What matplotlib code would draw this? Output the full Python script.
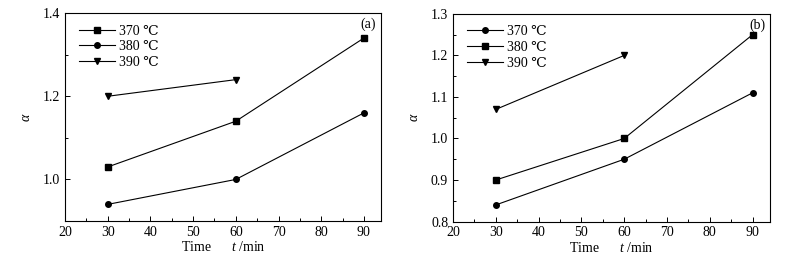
"""Two-panel alpha vs time plot."""

import matplotlib

matplotlib.use("Agg")
import matplotlib.pyplot as plt
from matplotlib.ticker import FormatStrFormatter, MultipleLocator

plt.rcParams.update(
    {
        "font.family": ["Liberation Serif", "DejaVu Serif"],
        "font.size": 10,
        "mathtext.fontset": "custom",
        "mathtext.rm": "Liberation Serif",
        "mathtext.it": "Liberation Serif:italic",
        "xtick.direction": "in",
        "ytick.direction": "in",
        "axes.linewidth": 0.8,
    }
)

time_min = [30, 60, 90]
time_short = [30, 60]
labels = ["370 ℃", "380 ℃", "390 ℃"]

# panel (a)
a_370 = [1.03, 1.14, 1.34]
a_380 = [0.94, 1.00, 1.16]
a_390 = [1.20, 1.24]

# panel (b)
b_370 = [0.84, 0.95, 1.11]
b_380 = [0.90, 1.00, 1.25]
b_390 = [1.07, 1.20]


def draw_panel(axis, series, markers, ylim, major, minor, tag):
    for (x, y), marker, label in zip(series, markers, labels):
        axis.plot(x, y, color="black", linewidth=0.8, marker=marker, markersize=4, label=label)
    axis.set_xlim(20, 94)
    axis.set_ylim(*ylim)
    axis.xaxis.set_major_locator(MultipleLocator(10))
    axis.xaxis.set_minor_locator(MultipleLocator(5))
    axis.yaxis.set_major_locator(MultipleLocator(major))
    axis.yaxis.set_minor_locator(MultipleLocator(minor))
    axis.yaxis.set_major_formatter(FormatStrFormatter("%.1f"))
    axis.tick_params(which="major", length=3.5, width=0.7, top=False, right=False)
    axis.tick_params(which="minor", length=2, width=0.7, top=False, right=False)
    axis.set_xlabel(r"Time      $t$ /min", labelpad=1)
    axis.set_ylabel(r"$\alpha$", labelpad=7)
    axis.text(0.985, 0.945, tag, transform=axis.transAxes, ha="right", va="center")
    axis.legend(
        loc="upper left",
        frameon=False,
        handlelength=2.6,
        handletextpad=0.25,
        labelspacing=0.2,
        borderaxespad=0.0,
        borderpad=0.0,
        bbox_to_anchor=(0.045, 0.945),
    )


fig = plt.figure(figsize=(7.87, 2.57), dpi=100)
ax_a = fig.add_axes([0.0826, 0.140, 0.4015, 0.809])
ax_b = fig.add_axes([0.5756, 0.138, 0.4025, 0.808])

draw_panel(
    ax_a,
    [(time_min, a_370), (time_min, a_380), (time_short, a_390)],
    ["s", "o", "v"],
    (0.9, 1.4),
    0.2,
    0.1,
    "(a)",
)

draw_panel(
    ax_b,
    [(time_min, b_370), (time_min, b_380), (time_short, b_390)],
    ["o", "s", "v"],
    (0.8, 1.3),
    0.1,
    0.05,
    "(b)",
)

fig.savefig("out.png", dpi=100)
